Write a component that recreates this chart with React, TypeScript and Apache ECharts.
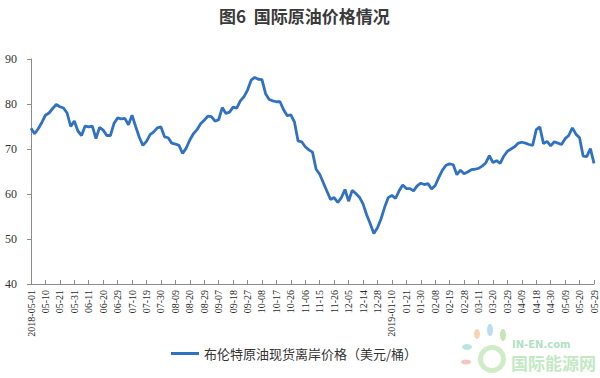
import React, { useEffect, useRef } from "react";
import * as echarts from "echarts";

const titleText = "图6  国际原油价格情况";
const seriesName = "布伦特原油现货离岸价格（美元/桶）";

const dateLabels = [
  "2018-05-01", "05-10", "05-21", "05-31", "06-11", "06-20", "06-29", "07-10",
  "07-19", "07-30", "08-09", "08-20", "08-29", "09-07", "09-18", "09-27",
  "10-08", "10-17", "10-26", "11-06", "11-15", "11-26", "12-05", "12-14",
  "12-28", "2019-01-10", "01-21", "01-30", "02-08", "02-19", "02-28", "03-11",
  "03-20", "03-29", "04-09", "04-18", "04-30", "05-09", "05-20", "05-29",
];

// four samples per labelled interval (label sits on every 4th sample)
const brentPrices = [
  74.6, 73.4, 74.5, 75.9, 77.5, 78.0, 79.0, 79.9, 79.4, 79.1,
  78.0, 75.0, 76.2, 74.0, 73.0, 75.1, 74.9, 75.1, 72.3, 74.8,
  74.2, 73.0, 73.0, 75.7, 76.9, 76.7, 76.8, 75.4, 77.5, 75.0,
  72.6, 70.8, 71.7, 73.2, 73.8, 74.7, 74.9, 72.7, 72.5, 71.3,
  71.1, 70.8, 69.0, 70.2, 72.0, 73.4, 74.3, 75.6, 76.4, 77.3,
  77.2, 76.2, 76.5, 79.2, 77.9, 78.2, 79.3, 79.1, 80.7, 81.6,
  83.1, 85.3, 85.9, 85.5, 85.4, 82.3, 81.0, 80.7, 80.5, 80.5,
  78.7, 77.4, 77.6, 76.0, 71.8, 71.6, 70.5, 69.8, 69.3, 65.5,
  64.4, 62.5, 60.6, 58.8, 59.2, 58.1, 59.2, 61.0, 58.4, 60.8,
  60.1, 59.3, 57.8, 55.4, 53.4, 51.2, 52.5, 54.5, 57.1, 59.2,
  59.7, 59.0, 60.7, 62.0, 61.2, 61.2, 60.7, 61.8, 62.4, 62.1,
  62.3, 61.1, 61.9, 63.7, 65.3, 66.4, 66.7, 66.5, 64.3, 65.3,
  64.5, 64.9, 65.4, 65.5, 65.7, 66.2, 66.9, 68.5, 67.0, 67.4,
  66.8, 68.4, 69.5, 70.0, 70.5, 71.3, 71.5, 71.3, 71.0, 70.8,
  74.3, 74.9, 71.2, 71.7, 70.7, 71.6, 71.3, 71.0, 72.3, 73.0,
  74.7, 73.3, 72.5, 68.4, 68.3, 70.1, 66.8,
];

const yTicks = [40, 50, 60, 70, 80, 90];
const samplesPerLabel = 4;

export default function App() {
  const ref = useRef<HTMLDivElement>(null);

  useEffect(() => {
    if (!ref.current) return;
    const chart = echarts.init(ref.current, undefined, { renderer: "svg" });
    const categories = brentPrices.map((_, i) =>
      i % samplesPerLabel === 0 ? dateLabels[i / samplesPerLabel] : `s${i}`
    );
    const serif = "'Liberation Serif', 'Times New Roman', serif";
    const cjk = "'Noto Sans CJK SC', sans-serif";
    chart.setOption({
      animation: false,
      backgroundColor: "#ffffff",
      title: {
        text: titleText,
        left: 214,
        top: 2,
        textStyle: { fontFamily: cjk, fontSize: 17, fontWeight: "bold", color: "#3a3a3a" },
      },
      legend: {
        data: [seriesName],
        left: 166,
        top: 342,
        icon: "rect",
        itemWidth: 28,
        itemHeight: 3,
        itemGap: 6,
        textStyle: { fontFamily: cjk, fontSize: 13, color: "#333333" },
      },
      grid: { left: 31, right: 6, top: 59, bottom: 94, containLabel: false },
      xAxis: {
        type: "category",
        boundaryGap: false,
        data: categories,
        axisLine: { lineStyle: { color: "#8c8c8c", width: 1 } },
        axisTick: { show: true, inside: true, length: 4, interval: samplesPerLabel - 1, lineStyle: { color: "#8c8c8c" } },
        axisLabel: {
          interval: samplesPerLabel - 1,
          rotate: 90,
          margin: 6,
          fontFamily: serif,
          fontSize: 10,
          color: "#2a2a2a",
          formatter: (v: string, i: number) =>
            i % samplesPerLabel === 0 ? dateLabels[i / samplesPerLabel] : "",
        },
        splitLine: { show: false },
      },
      yAxis: {
        type: "value",
        min: yTicks[0],
        max: yTicks[yTicks.length - 1],
        interval: 10,
        axisLine: { show: true, lineStyle: { color: "#8c8c8c", width: 1 } },
        axisTick: { show: true, length: 4, lineStyle: { color: "#8c8c8c" } },
        axisLabel: { fontFamily: serif, fontSize: 12, color: "#333333", margin: 14 },
        splitLine: { show: false },
      },
      series: [
        {
          name: seriesName,
          type: "line",
          data: brentPrices,
          symbol: "none",
          lineStyle: { color: "#3071c2", width: 2.8 },
          itemStyle: { color: "#3071c2" },
        },
      ],
      graphic: [
        { type: "ellipse", shape: { cx: 477, cy: 334, rx: 3, ry: 5 }, style: { fill: "#f6c9a0", opacity: 0.8 } },
        { type: "ellipse", shape: { cx: 490, cy: 330, rx: 3, ry: 6 }, style: { fill: "#a9d4f2", opacity: 0.8 } },
        { type: "ellipse", shape: { cx: 503, cy: 335, rx: 3, ry: 6 }, style: { fill: "#b9e0a4", opacity: 0.8 } },
        { type: "ellipse", shape: { cx: 467, cy: 347, rx: 5, ry: 3 }, style: { fill: "#a8e0d4", opacity: 0.8 } },
        { type: "ellipse", shape: { cx: 466, cy: 362, rx: 5, ry: 2.5 }, style: { fill: "#f5b7b0", opacity: 0.8 } },
        { type: "ring", shape: { cx: 492, cy: 359, r: 14, r0: 9 }, style: { fill: "#c6e9bc", opacity: 0.85 } },
        { type: "text", left: 512, top: 339, style: { text: "IN-EN.com", fontFamily: "'DejaVu Sans', sans-serif", fontSize: 10, fontWeight: "bold", fill: "#b2dfc6" } },
        { type: "text", left: 511, top: 354, style: { text: "国际能源网", fontFamily: cjk, fontSize: 17, fontWeight: "bold", fill: "#c4e8c4" } },
      ],
    });
    return () => chart.dispose();
  }, []);

  return (
    <div
      ref={ref}
      style={{ position: "fixed", left: 0, top: 0, width: 600, height: 378, background: "#fff" }}
    />
  );
}
